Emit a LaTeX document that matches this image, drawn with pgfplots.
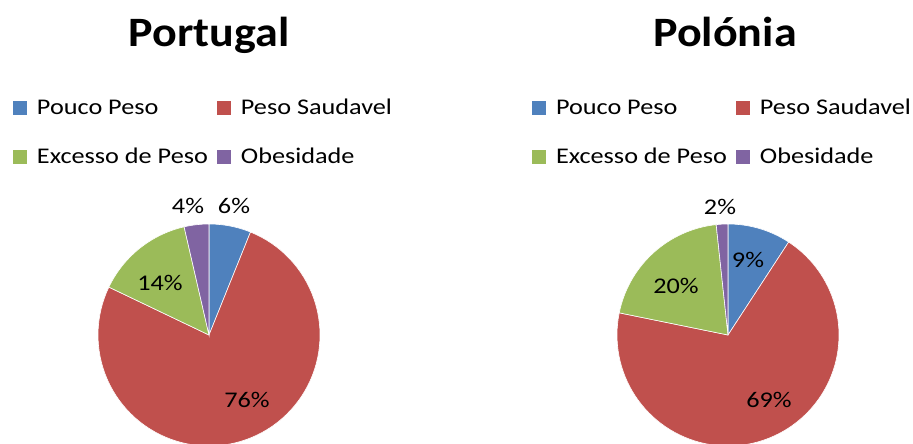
\documentclass[border=0pt]{standalone}
\usepackage{pgfplots}
\pgfplotsset{compat=1.18}
\usepackage{fontspec}
\setmainfont{Carlito}
\newfontfamily\legfont[FakeStretch=1.17]{Carlito}
\newfontfamily\titlefont[FakeStretch=1.1]{Carlito}
\definecolor{cBlue}{HTML}{4F81BD}
\definecolor{cRed}{HTML}{C0504D}
\definecolor{cGreen}{HTML}{9BBB59}
\definecolor{cPurple}{HTML}{8064A2}
% data (percent): Pouco Peso, Peso Saudavel, Excesso de Peso, Obesidade
\def\ptA{6.1}\def\ptB{76.0}\def\ptC{14.3}\def\ptD{3.6}
\def\plA{9.2}\def\plB{69.0}\def\plC{20.1}\def\plD{1.7}
% slice: cx, cy, r, cumulative start, cumulative end, colour
\newcommand{\pieslice}[6]{%
  \pgfmathsetmacro\aS{-90+3.6*(#4)}%
  \pgfmathsetmacro\aE{-90+3.6*(#5)}%
  \edef\tmp{\noexpand\addplot[fill=#6, draw=white, line width=0.6pt, domain=\aS:\aE, samples=90]
    ({#1+#3*cos(x)}, {#2+#3*sin(x)}) -- (axis cs:#1,#2) -- cycle;}%
  \tmp}
\pgfplotsset{
  pieax/.style={
    width=456.5bp, height=444bp, scale only axis,
    ymin=0, ymax=444, y dir=reverse,
    hide axis, anchor=south west,
    legend columns=2,
    legend cell align=left,
    legend image code/.code={\path[##1, draw=none] (0bp,-7bp) rectangle (14bp,7bp);},
    legend style={draw=none, fill=none, inner sep=0pt, outer sep=0pt,
      anchor=north west, row sep=34.5bp,
      font=\legfont\fontsize{22.5}{27}\selectfont,
      nodes={inner sep=0pt, text height=14.5bp, text depth=0bp},
      /tikz/every odd column/.append style={column sep=10bp},
      /tikz/every even column/.append style={column sep=9bp}},
  },
}
\tikzset{
  lbl/.style={font=\legfont\fontsize{22.5}{27}\selectfont, inner sep=0pt, text=black},
  ttl/.style={font=\titlefont\bfseries\fontsize{42}{50}\selectfont, anchor=base, inner sep=0pt},
}
\begin{document}
\begin{tikzpicture}
\useasboundingbox (0,0) rectangle (913bp,444bp);
\begin{axis}[pieax, at={(0,0)}, xmin=0, xmax=456.5,
  legend style={at={(13/456.5,{1-100.5/444})}}]
\pieslice{209}{335}{111}{0}{\ptA}{cBlue}
\pieslice{209}{335}{111}{\ptA}{\ptA+\ptB}{cRed}
\pieslice{209}{335}{111}{\ptA+\ptB}{\ptA+\ptB+\ptC}{cGreen}
\pieslice{209}{335}{111}{\ptA+\ptB+\ptC}{100}{cPurple}
\legend{Pouco Peso, Peso Saudavel, Excesso de Peso, Obesidade}
\node[ttl] at (axis cs:209,47) {Portugal};
\node[lbl] at (axis cs:188,206) {4\%};
\node[lbl] at (axis cs:234,206) {6\%};
\node[lbl] at (axis cs:160,283) {14\%};
\node[lbl] at (axis cs:247,400) {76\%};
\end{axis}
\begin{axis}[pieax, at={(456.5bp,0)}, xmin=456.5, xmax=913,
  legend style={at={(75.5/456.5,{1-100.5/444})}}]
\pieslice{728}{335}{111}{0}{\plA}{cBlue}
\pieslice{728}{335}{111}{\plA}{\plA+\plB}{cRed}
\pieslice{728}{335}{111}{\plA+\plB}{\plA+\plB+\plC}{cGreen}
\pieslice{728}{335}{111}{\plA+\plB+\plC}{100}{cPurple}
\legend{Pouco Peso, Peso Saudavel, Excesso de Peso, Obesidade}
\node[ttl] at (axis cs:725,47) {Polónia};
\node[lbl] at (axis cs:720,207) {2\%};
\node[lbl] at (axis cs:748,260) {9\%};
\node[lbl] at (axis cs:676,286) {20\%};
\node[lbl] at (axis cs:769,400) {69\%};
\end{axis}
\end{tikzpicture}
\end{document}
